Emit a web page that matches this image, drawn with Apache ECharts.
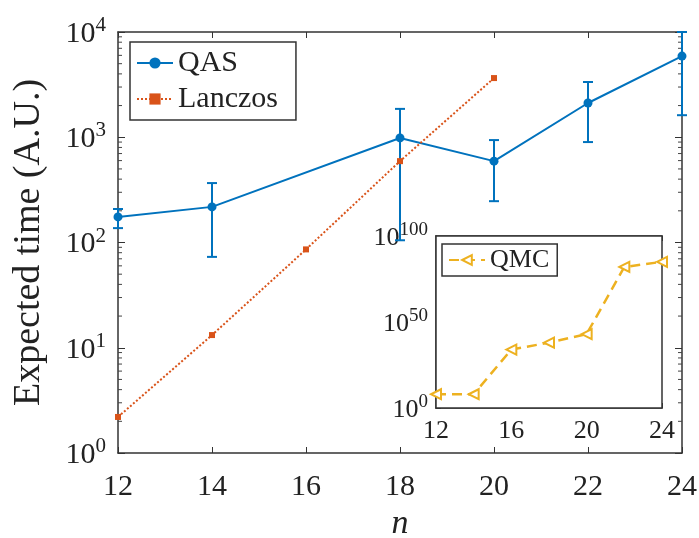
<!DOCTYPE html>
<html><head><meta charset="utf-8">
<script src="https://cdn.jsdelivr.net/npm/echarts@6/dist/echarts.min.js"></script>
<style>html,body{margin:0;padding:0;background:#fff}#c{width:699px;height:538px}</style>
</head><body><div id="c"></div>
<script>
// ---- data ----
var qasN = [12, 14, 18, 20, 22, 24];
var qasMean = [175, 218, 985, 593, 2115, 5900];
var qasLow = [137, 73, 105, 247, 900, 1620];
var qasHigh = [208, 367, 1860, 940, 3350, 10000];
var lanczosN = [12, 14, 16, 18, 20];
var lanczosVal = [2.2, 13.2, 86, 593, 3650];
var qmcN = [12, 14, 16, 18, 20, 22, 24];
var qmcVal = [1e8, 1e8, 1e34, 1e38, 1e43, 1e82, 1e85];
// axis decoration (tick values)
var mainXTicks = [12, 14, 16, 18, 20, 22, 24];
var insetXTicks = [12, 16, 20, 24];
var minorYTicks = [2, 3, 4, 5, 6, 7, 8, 9,
  20, 30, 40, 50, 60, 70, 80, 90,
  200, 300, 400, 500, 600, 700, 800, 900,
  2000, 3000, 4000, 5000, 6000, 7000, 8000, 9000];

var FONT = 'Liberation Serif';
var C_QAS = '#0072BD', C_LAN = '#D95319', C_QMC = '#EDB120';

function zip(a, b) { return a.map(function (v, i) { return [v, b[i]]; }); }
function supLabel(big, small, raise) {
  return {
    fontFamily: FONT, color: '#222', fontSize: big,
    formatter: function (v) { return '{b|10}{s|' + Math.round(Math.log10(v)) + '}'; },
    rich: {
      b: { fontFamily: FONT, fontSize: big, color: '#222', lineHeight: big + 4, verticalAlign: 'bottom' },
      s: { fontFamily: FONT, fontSize: small, color: '#222', lineHeight: small, verticalAlign: 'top', padding: [0, 0, raise, 0] }
    }
  };
}
var axisLineStyle = { show: true, lineStyle: { color: '#333', width: 1.5 } };

var errData = qasN.map(function (n, i) { return [n, qasLow[i], qasHigh[i]]; });
var minorData = minorYTicks.map(function (v) { return [mainXTicks[0], v]; });

var option = {
  backgroundColor: '#fff',
  animation: false,
  grid: [
    { left: 118, right: 17, top: 32, bottom: 85, containLabel: false, outerBoundsMode: 'none' },
    { left: 436, right: 37, top: 236, bottom: 130, show: true, backgroundColor: '#fff', borderColor: '#333', borderWidth: 1.5, z: 5, containLabel: false, outerBoundsMode: 'none' }
  ],
  legend: [
    {
      data: ['QAS', 'Lanczos'], left: 130, top: 42, orient: 'vertical',
      borderColor: '#333', borderWidth: 1.5, padding: [6, 18, 6, 6], itemGap: 6,
      itemWidth: 36, itemHeight: 14,
      textStyle: { fontFamily: FONT, fontSize: 30, color: '#222' }
    },
    {
      data: ['QMC'], left: 442, top: 244, orient: 'vertical', z: 10,
      borderColor: '#333', borderWidth: 1.5, padding: [3, 8, 3, 6],
      itemWidth: 36, itemHeight: 12, backgroundColor: '#fff',
      textStyle: { fontFamily: FONT, fontSize: 26, color: '#222' }
    }
  ],
  xAxis: [
    {
      type: 'value', gridIndex: 0, min: 12, max: 24, interval: 2,
      axisLine: axisLineStyle, axisTick: { show: true, inside: true, length: 6, lineStyle: { color: '#333' } },
      splitLine: { show: false },
      axisLabel: { fontFamily: FONT, fontSize: 30, color: '#222', margin: 19 },
      name: 'n', nameLocation: 'middle', nameGap: 52,
      nameTextStyle: { fontFamily: FONT, fontSize: 34, fontStyle: 'italic', color: '#222' }
    },
    {
      type: 'value', gridIndex: 0, min: 12, max: 24, interval: 2, position: 'top',
      axisLine: axisLineStyle, axisTick: { show: true, inside: true, length: 6, lineStyle: { color: '#333' } },
      splitLine: { show: false }, axisLabel: { show: false }
    },
    {
      type: 'value', gridIndex: 1, min: 12, max: 24, interval: 4,
      axisLine: axisLineStyle, axisTick: { show: true, inside: true, length: 5, lineStyle: { color: '#333' } },
      splitLine: { show: false },
      axisLabel: { fontFamily: FONT, fontSize: 26, color: '#222', margin: 10 }
    },
    {
      type: 'value', gridIndex: 1, min: 12, max: 24, interval: 4, position: 'top',
      axisLine: axisLineStyle, axisTick: { show: true, inside: true, length: 5, lineStyle: { color: '#333' } },
      splitLine: { show: false }, axisLabel: { show: false }
    }
  ],
  yAxis: [
    {
      type: 'log', logBase: 10, gridIndex: 0, min: 1, max: 10000, interval: 1,
      axisLine: axisLineStyle,
      axisTick: { show: true, inside: true, length: 7, lineStyle: { color: '#333' } },
      splitLine: { show: false },
      axisLabel: Object.assign(supLabel(30, 21, 12), { margin: 12 }),
      name: 'Expected time (A.U.)', nameLocation: 'middle', nameGap: 70, nameRotate: 90,
      nameTextStyle: { fontFamily: FONT, fontSize: 38, color: '#222' }
    },
    {
      type: 'log', logBase: 10, gridIndex: 0, min: 1, max: 10000, interval: 1, position: 'right',
      axisLine: axisLineStyle,
      axisTick: { show: true, inside: true, length: 7, lineStyle: { color: '#333' } },
      splitLine: { show: false }, axisLabel: { show: false }
    },
    {
      type: 'log', logBase: 10, gridIndex: 1, min: 1, max: 1e100, interval: 50,
      axisLine: axisLineStyle,
      axisTick: { show: true, inside: true, length: 5, lineStyle: { color: '#333' } },
      splitLine: { show: false },
      axisLabel: Object.assign(supLabel(26, 19, 12), { margin: 8 })
    }
  ],
  series: [
    {
      name: 'minorTicks', type: 'custom', xAxisIndex: 0, yAxisIndex: 0, data: minorData,
      encode: { x: 0, y: 1 }, z: 1, silent: true, legendHoverLink: false,
      renderItem: function (params, api) {
        var v = api.value(1);
        var l = api.coord([12, v]);
        var r = api.coord([24, v]);
        var st = { stroke: '#444', lineWidth: 1 };
        return {
          type: 'group', children: [
            { type: 'line', shape: { x1: l[0], y1: l[1], x2: l[0] + 4, y2: l[1] }, style: st },
            { type: 'line', shape: { x1: r[0], y1: r[1], x2: r[0] - 4, y2: r[1] }, style: st }
          ]
        };
      }
    },
    {
      name: 'QAS', type: 'line', xAxisIndex: 0, yAxisIndex: 0, data: zip(qasN, qasMean),
      symbol: 'circle', symbolSize: 9, itemStyle: { color: C_QAS },
      lineStyle: { color: C_QAS, width: 2 }, z: 4
    },
    {
      name: 'QAS', type: 'custom', xAxisIndex: 0, yAxisIndex: 0, data: errData,
      encode: { x: 0, y: [1, 2] }, z: 3,
      renderItem: function (params, api) {
        var x = api.value(0);
        var lo = api.coord([x, api.value(1)]);
        var hi = api.coord([x, api.value(2)]);
        var w = 5;
        var st = { stroke: C_QAS, lineWidth: 2 };
        return {
          type: 'group', children: [
            { type: 'line', shape: { x1: lo[0], y1: lo[1], x2: hi[0], y2: hi[1] }, style: st },
            { type: 'line', shape: { x1: lo[0] - w, y1: lo[1], x2: lo[0] + w, y2: lo[1] }, style: st },
            { type: 'line', shape: { x1: hi[0] - w, y1: hi[1], x2: hi[0] + w, y2: hi[1] }, style: st }
          ]
        };
      }
    },
    {
      name: 'Lanczos', type: 'line', xAxisIndex: 0, yAxisIndex: 0, data: zip(lanczosN, lanczosVal),
      symbol: 'rect', symbolSize: 6, itemStyle: { color: C_LAN },
      lineStyle: { color: C_LAN, width: 2, type: [2, 2] }, z: 4
    },
    {
      name: 'QMC', type: 'line', xAxisIndex: 2, yAxisIndex: 2, data: zip(qmcN, qmcVal),
      symbol: 'emptyTriangle', symbolRotate: 90, symbolSize: 10,
      itemStyle: { color: C_QMC, borderWidth: 2 },
      lineStyle: { color: C_QMC, width: 2.5, type: [10, 6] }, z: 8
    }
  ]
};
var chart = echarts.init(document.getElementById('c'), null, { renderer: 'canvas' });
chart.setOption(option);
</script></body></html>
